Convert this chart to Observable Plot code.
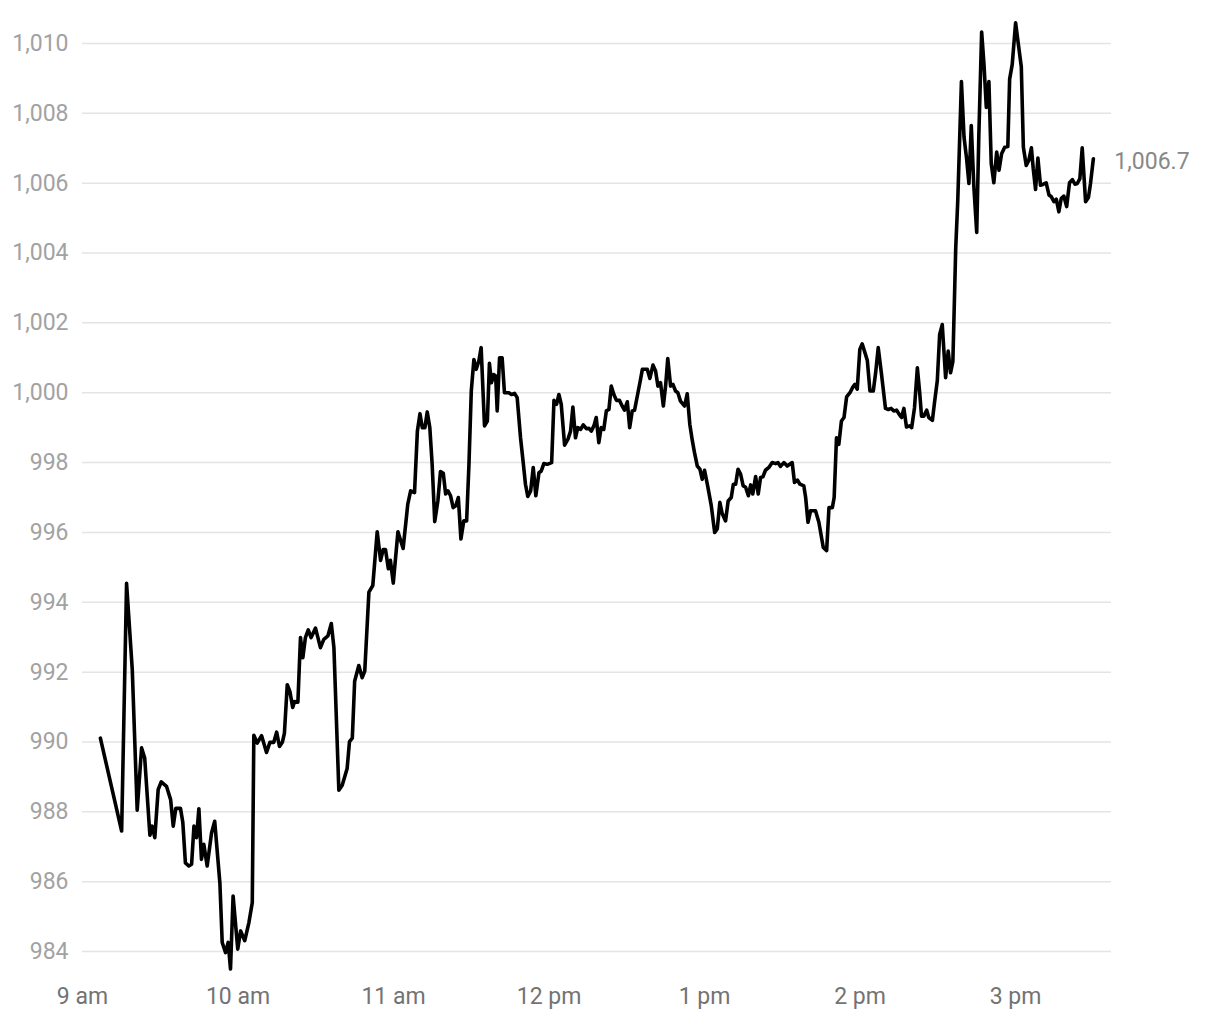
<!DOCTYPE html>
<html><head><meta charset="utf-8">
<script src="https://cdn.jsdelivr.net/npm/d3@7"></script>
<script src="https://cdn.jsdelivr.net/npm/@observablehq/plot@0.6"></script>
<style>body{margin:0;background:#fff;font-family:Roboto,sans-serif}</style>
</head><body><div id="chart"></div>
<script>
// minutes after 9:00 am
const minutes = [
6.9, 15.1, 17.0, 19.2, 21.1, 22.8, 24.0, 26.0, 26.9, 27.9,
29.2, 30.4, 32.4, 34.0, 35.0, 36.0, 37.8, 38.7, 39.7, 41.0,
42.1, 43.0, 44.0, 44.9, 45.9, 46.8, 48.1, 49.8, 51.0, 53.0,
53.9, 55.2, 56.2, 57.1, 58.1, 59.9, 61.0, 62.6, 64.2, 65.5,
66.1, 67.4, 69.1, 71.0, 72.3, 73.8, 74.9, 76.0, 77.1, 77.9,
79.0, 80.0, 81.1, 81.8, 83.1, 84.1, 85.0, 86.0, 87.1, 88.2,
89.9, 91.8, 93.1, 94.7, 96.0, 97.0, 98.9, 100.2, 102.1, 103.0,
104.1, 105.0, 106.6, 107.9, 108.9, 110.5, 112.0, 113.7, 115.0, 116.0,
116.9, 118.0, 118.8, 119.9, 121.7, 123.7, 125.5, 126.6, 128.1, 129.2,
130.2, 131.1, 132.1, 133.0, 134.0, 134.9, 135.9, 137.1, 138.1, 139.2,
140.1, 141.0, 142.0, 143.0, 144.0, 145.0, 146.0, 147.1, 148.2, 149.1,
150.0, 151.0, 151.9, 152.9, 153.8, 155.1, 156.2, 157.0, 157.8, 158.7,
159.4, 160.0, 160.9, 161.9, 162.8, 164.5, 165.5, 166.7, 167.7, 169.0,
170.1, 170.9, 171.8, 172.9, 173.9, 174.9, 176.1, 177.0, 178.0, 179.3,
181.0, 181.9, 182.9, 183.8, 184.7, 186.0, 187.3, 188.3, 189.2, 190.2,
191.1, 192.2, 193.2, 194.4, 195.4, 196.3, 197.3, 198.2, 199.2, 200.1,
201.1, 202.1, 203.1, 204.0, 205.0, 206.0, 207.2, 208.2, 209.1, 210.2,
211.1, 212.1, 213.0, 214.3, 215.3, 216.0, 217.9, 218.9, 220.1, 221.1,
222.0, 223.0, 224.1, 225.0, 225.8, 226.9, 227.8, 228.8, 229.7, 230.7,
232.3, 233.3, 234.3, 235.3, 236.1, 237.2, 238.2, 239.1, 240.0, 241.3,
242.6, 243.9, 244.9, 245.9, 246.8, 248.1, 249.1, 250.3, 251.1, 252.0,
252.9, 253.9, 254.9, 255.8, 256.9, 257.8, 258.6, 259.7, 260.7, 261.6,
262.5, 263.5, 264.8, 266.1, 267.4, 268.3, 269.3, 270.6, 271.9, 273.8,
274.7, 275.8, 276.8, 278.3, 279.0, 279.9, 280.9, 282.8, 284.1, 285.8,
287.1, 288.0, 289.3, 290.0, 290.9, 291.8, 292.8, 293.8, 294.8, 296.1,
297.2, 298.0, 298.9, 299.9, 300.8, 301.9, 302.8, 303.8, 305.1, 306.0,
307.0, 308.2, 309.8, 310.9, 312.0, 313.0, 314.1, 315.1, 316.0, 316.9,
317.9, 319.1, 319.9, 321.0, 322.1, 323.0, 323.7, 324.6, 325.7, 326.5,
327.9, 328.7, 329.8, 330.7, 331.7, 333.0, 334.0, 334.9, 335.8, 336.9,
337.7, 339.1, 340.1, 341.1, 342.0, 342.9, 343.9, 345.0, 345.8, 346.9,
347.8, 348.7, 349.7, 350.6, 351.6, 352.7, 353.6, 354.6, 355.8, 357.0,
357.7, 358.7, 360.0, 360.9, 362.2, 363.0, 364.1, 365.1, 366.1, 366.8,
367.7, 368.6, 369.6, 370.7, 371.8, 372.9, 373.8, 374.8, 375.7, 376.7,
377.6, 378.6, 379.7, 380.8, 381.9, 382.9, 383.8, 384.8, 385.7, 387.0,
388.1, 388.9, 390.0
];
const prices = [
990.11, 987.45, 994.54, 992.07, 988.05, 989.83, 989.54, 987.33, 987.59, 987.26,
988.64, 988.86, 988.73, 988.35, 987.59, 988.10, 988.10, 987.70, 986.54, 986.45,
986.50, 987.59, 987.26, 988.09, 986.64, 987.07, 986.45, 987.40, 987.73, 985.97,
984.26, 983.97, 984.26, 983.50, 985.59, 984.07, 984.59, 984.31, 984.83, 985.40,
990.19, 989.97, 990.18, 989.70, 989.99, 989.99, 990.28, 989.87, 989.99, 990.25,
991.64, 991.45, 990.99, 991.16, 991.14, 992.99, 992.41, 992.99, 993.21, 992.99,
993.26, 992.70, 992.94, 993.04, 993.39, 992.70, 988.62, 988.76, 989.24, 990.01,
990.11, 991.74, 992.19, 991.84, 992.03, 994.29, 994.48, 996.02, 995.20, 995.51,
995.51, 994.96, 995.20, 994.55, 996.02, 995.54, 996.81, 997.19, 997.14, 998.90,
999.40, 999.00, 999.00, 999.45, 999.00, 997.95, 996.31, 996.90, 997.74, 997.69,
997.10, 997.19, 997.05, 996.71, 996.76, 997.00, 995.81, 996.33, 996.33, 997.95,
1000.05, 1000.95, 1000.67, 1000.90, 1001.29, 999.05, 999.19, 1000.84, 1000.29, 1000.52,
1000.48, 999.48, 1001.00, 1001.00, 1000.00, 1000.00, 999.95, 999.98, 999.86, 998.71,
997.95, 997.38, 997.03, 997.19, 997.86, 997.05, 997.71, 997.76, 997.97, 997.95,
998.00, 999.78, 999.67, 999.95, 999.67, 998.50, 998.67, 998.90, 999.59, 998.71,
999.00, 998.95, 999.08, 998.97, 998.98, 998.90, 999.05, 999.29, 998.57, 999.00,
998.95, 999.48, 999.52, 1000.19, 999.95, 999.78, 999.78, 999.62, 999.50, 999.74,
999.00, 999.48, 999.50, 1000.00, 1000.38, 1000.67, 1000.67, 1000.41, 1000.79, 1000.62,
1000.19, 1000.29, 999.62, 1000.22, 1000.98, 1000.19, 1000.24, 1000.05, 1000.00, 999.76,
999.62, 999.97, 999.10, 998.62, 998.29, 997.90, 997.81, 997.52, 997.78, 997.29,
996.76, 996.00, 996.10, 996.86, 996.54, 996.33, 996.90, 997.00, 997.38, 997.38,
997.81, 997.67, 997.33, 997.30, 997.05, 997.36, 997.10, 997.60, 997.10, 997.57,
997.59, 997.78, 997.86, 998.00, 997.97, 998.00, 997.89, 998.00, 997.90, 998.00,
997.43, 997.50, 997.38, 997.33, 997.00, 996.29, 996.62, 996.62, 996.29, 995.57,
995.48, 996.71, 996.71, 997.00, 998.71, 998.52, 999.19, 999.29, 999.88, 1000.00,
1000.16, 1000.24, 1000.10, 1001.24, 1001.40, 1001.14, 1000.92, 1000.05, 1000.05, 1000.57,
1001.29, 1000.57, 999.55, 999.52, 999.55, 999.48, 999.50, 999.38, 999.29, 999.55,
999.02, 999.05, 999.00, 999.57, 1000.71, 1000.00, 999.33, 999.33, 999.50, 999.29,
999.21, 999.71, 1000.35, 1001.67, 1001.95, 1000.43, 1001.19, 1000.57, 1000.90, 1004.14,
1005.52, 1008.91, 1007.32, 1006.70, 1005.99, 1007.65, 1005.90, 1004.59, 1007.32, 1010.33,
1009.40, 1008.17, 1008.91, 1006.56, 1006.01, 1006.89, 1006.37, 1006.84, 1007.03, 1007.05,
1008.98, 1009.40, 1010.59, 1010.07, 1009.33, 1007.03, 1006.51, 1006.65, 1007.01, 1006.42,
1005.82, 1006.72, 1005.94, 1005.97, 1006.01, 1005.66, 1005.61, 1005.47, 1005.54, 1005.18,
1005.56, 1005.63, 1005.33, 1006.01, 1006.10, 1005.97, 1005.99, 1006.13, 1007.01, 1005.47,
1005.59, 1005.99, 1006.70
];
const yTicks = [984, 986, 988, 990, 992, 994, 996, 998, 1000, 1002, 1004, 1006, 1008, 1010];
const hourTicks = [9, 10, 11, 12, 13, 14, 15];

const base = new Date(2024, 0, 2, 9, 0, 0);
const toDate = m => new Date(base.getTime() + m * 60000);
const n = Math.min(minutes.length, prices.length);
const data = [];
for (let i = 0; i < n; i++) data.push({t: toDate(minutes[i]), v: prices[i]});
const last = data[data.length - 1];
const fmtHour = d => { const h = d.getHours(); return (h % 12 || 12) + (h < 12 ? " am" : " pm"); };

const chart = Plot.plot({
  width: 1220, height: 1020,
  marginLeft: 82, marginRight: 109, marginTop: 22, marginBottom: 51.5,
  style: {fontFamily: "Roboto, sans-serif", fontSize: "23px", background: "#fff"},
  x: {type: "time", domain: [toDate(0), toDate(397)]},
  y: {domain: [983.5, 1010.6]},
  marks: [
    Plot.ruleY(yTicks, {stroke: "#e4e4e4", strokeWidth: 1.5}),
    Plot.axisY(yTicks, {tickSize: 0, tickPadding: 14, tickFormat: d3.format(","), color: "#a2a2a2", fontSize: 23, label: null}),
    Plot.axisX(hourTicks.map(h => toDate((h - 9) * 60)), {tickSize: 0, tickPadding: 19, tickFormat: fmtHour, color: "#737373", fontSize: 23, label: null}),
    Plot.line(data, {x: "t", y: "v", stroke: "#000", strokeWidth: 3.6}),
    Plot.text([last], {x: "t", y: "v", text: d => d3.format(",.1f")(d.v), textAnchor: "start", dx: 21, dy: 3, fill: "#888", fontSize: 23})
  ]
});
document.getElementById("chart").appendChild(chart);
</script>
</body></html>
